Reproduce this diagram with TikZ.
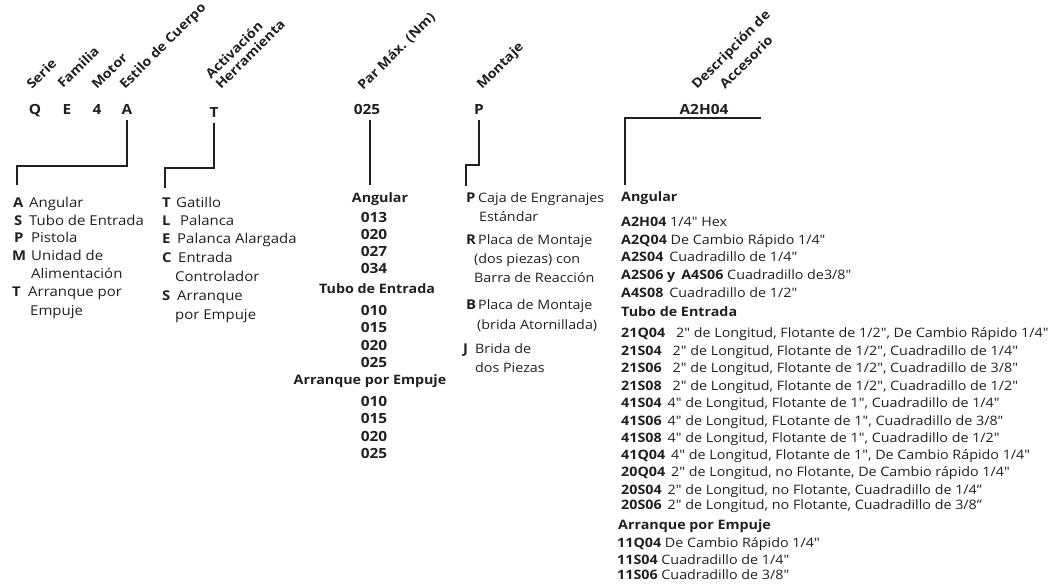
\documentclass[tikz,border=0pt]{standalone}
\usepackage{fontspec}
\setmainfont{Open Sans}[FakeStretch=1.1, Ligatures=TeXOff]
\definecolor{ink}{HTML}{231F20}
\begin{document}
\begin{tikzpicture}[x=1pt,y=-1pt,
  ln/.style={line width=1.6pt, draw=ink},
  hd/.style={font=\bfseries\fontsize{13}{15}\selectfont, rotate=45, anchor=base west, inner sep=0pt, text=ink},
  code/.style={font=\bfseries\fontsize{14}{16}\selectfont, anchor=base, inner sep=0pt, text=ink},
  key/.style={font=\bfseries\fontsize{13.5}{15}\selectfont, anchor=base west, inner sep=0pt, text=ink},
  itm/.style={font=\fontsize{13.6}{15}\selectfont, anchor=base west, inner sep=0pt, text=ink},
  ritm/.style={font=\fontsize{13}{15}\selectfont, anchor=base west, inner sep=0pt, text=ink},
  bhd/.style={font=\bfseries\fontsize{13}{15}\selectfont, anchor=base, inner sep=0pt, text=ink},
  num/.style={font=\bfseries\fontsize{14}{15}\selectfont, anchor=base, inner sep=0pt, text=ink}]
\useasboundingbox (0,0) rectangle (1049,585);
% rotated headers
\node[hd] (hSerie) at (32,90) {Serie};
\node[hd] (hFam) at (63,89) {Familia};
\node[hd] (hMot) at (97,90) {Motor};
\node[hd] (hEst) at (125,90) {Estilo de Cuerpo};
\node[hd] (hAct) at (211,80) {Activación};
\node[hd] (hHer) at (221,90) {Herramienta};
\node[hd] (hPar) at (363,91) {Par Máx. (Nm)};
\node[hd] (hMon) at (482,90) {Montaje};
\node[hd] (hDes) at (697,90) {Descripción de};
\node[hd] (hAcc) at (725,90) {Accesorio};
% codes
\node[code] (cQ) at (35,115) {Q};
\node[code] (cE) at (67,115) {E};
\node[code] (c4) at (97,115) {4};
\node[code] (cA) at (127,115) {A};
\node[code] (cT) at (214,118) {T};
\node[code] (c025) at (367,115) {025};
\node[code] (cP) at (479,115) {P};
\node[code] (cA2) at (704,115) {A2H04};
% connector coordinates
\coordinate (bA) at (17,166);
\coordinate (eA) at (17,185);
\coordinate (bT) at (165,168);
\coordinate (eT) at (165,188);
\coordinate (e025) at (370,185);
\coordinate (bP) at (466,165);
\coordinate (eP) at (466,186);
\coordinate (rA2) at (761,118);
\coordinate (lA2) at (625,118);
\coordinate (eA2) at (625,185);
\draw[ln] ([yshift=-5pt]cA.south) |- (bA) -- (eA);
\draw[ln] ([yshift=-5pt]cT.south) |- (bT) -- (eT);
\draw[ln] ([yshift=-5pt]c025.south -| e025) -- (e025);
\draw[ln] ([yshift=-5pt]cP.south) |- (bP) -- (eP);
\draw[ln] (rA2) -- (lA2) -- (eA2);
% list 1
\node[key] (k1a) at (13,208) {A}; \node[itm] (t1a) at (29,208) {Angular};
\node[key] (k1b) at (14,226) {S}; \node[itm] (t1b) at (29,226) {Tubo de Entrada};
\node[key] (k1c) at (14,243) {P}; \node[itm] (t1c) at (31,243) {Pistola};
\node[key] (k1d) at (12,261) {M}; \node[itm] (t1d) at (31,261) {Unidad de};
\node[itm] (t1e) at (31,279) {Alimentación};
\node[key] (k1f) at (12,297) {T}; \node[itm] (t1f) at (28,297) {Arranque por};
\node[itm] (t1g) at (30,316) {Empuje};
% list 2
\node[key] (k2a) at (162,208) {T}; \node[itm] (t2a) at (176,208) {Gatillo};
\node[key] (k2b) at (162,226) {L}; \node[itm] (t2b) at (180,226) {Palanca};
\node[key] (k2c) at (162,244) {E}; \node[itm] (t2c) at (177,244) {Palanca Alargada};
\node[key] (k2d) at (162,262) {C}; \node[itm] (t2d) at (178,262) {Entrada};
\node[itm] (t2e) at (175,281) {Controlador};
\node[key] (k2f) at (162,300) {S}; \node[itm] (t2f) at (177,300) {Arranque};
\node[itm] (t2g) at (175,319) {por Empuje};
% torque column
\node[bhd] (m1) at (380,203) {Angular};
\node[num] (m2) at (374,223) {013};
\node[num] (m3) at (374,239.5) {020};
\node[num] (m4) at (374,257) {027};
\node[num] (m5) at (374,274) {034};
\node[bhd] (m6) at (377,294) {Tubo de Entrada};
\node[num] (m7) at (374,315) {010};
\node[num] (m8) at (374,332) {015};
\node[num] (m9) at (374,350) {020};
\node[num] (m10) at (374,367) {025};
\node[bhd] (m11) at (370,384) {Arranque por Empuje};
\node[num] (m12) at (374,406) {010};
\node[num] (m13) at (374,423) {015};
\node[num] (m14) at (374,441) {020};
\node[num] (m15) at (374,458) {025};
% mounting list
\node[key] (k3a) at (466,203) {P}; \node[ritm] (t3a) at (478,203) {Caja de Engranajes};
\node[ritm] (t3b) at (479,222) {Estándar};
\node[key] (k3c) at (466,245) {R}; \node[ritm] (t3c) at (478,245) {Placa de Montaje};
\node[ritm] (t3d) at (474,264) {(dos piezas) con};
\node[ritm] (t3e) at (474,283) {Barra de Reacción};
\node[key] (k3f) at (466,309) {B}; \node[ritm] (t3f) at (478,309) {Placa de Montaje};
\node[ritm] (t3g) at (477,329) {(brida Atornillada)};
\node[key] (k3h) at (463,353) {J}; \node[ritm] (t3h) at (475,353) {Brida de};
\node[ritm] (t3i) at (475,372) {dos Piezas};
% accessory column
\node[ritm] (r1) at (621,201.5) {\textbf{Angular}};
\node[ritm] (r2) at (621,226.5) {\textbf{A2H04} 1/4" Hex};
\node[ritm] (r3) at (621,244.5) {\textbf{A2Q04} De Cambio Rápido 1/4"};
\node[ritm] (r4) at (621,261.5) {\textbf{A2S04}\hspace{6pt}Cuadradillo de 1/4"};
\node[ritm] (r5) at (621,279.5) {\textbf{A2S06 y\hspace{6pt}A4S06} Cuadradillo de3/8"};
\node[ritm] (r6) at (621,297.5) {\textbf{A4S08}\hspace{6pt}Cuadradillo de 1/2"};
\node[ritm] (r7) at (621,316.5) {\textbf{Tubo de Entrada}};
\node[ritm] (r8) at (621,337.5) {\textbf{21Q04}\hspace{11pt}2" de Longitud, Flotante de 1/2", De Cambio Rápido 1/4"};
\node[ritm] (r9) at (621,355.5) {\textbf{21S04}\hspace{11pt}2" de Longitud, Flotante de 1/2", Cuadradillo de 1/4"};
\node[ritm] (r10) at (621,372.5) {\textbf{21S06}\hspace{11pt}2" de Longitud, Flotante de 1/2", Cuadradillo de 3/8"};
\node[ritm] (r11) at (621,390.5) {\textbf{21S08}\hspace{11pt}2" de Longitud, Flotante de 1/2", Cuadradillo de 1/2"};
\node[ritm] (r12) at (621,407.5) {\textbf{41S04}\hspace{6pt}4" de Longitud, Flotante de 1", Cuadradillo de 1/4"};
\node[ritm] (r13) at (621,425.5) {\textbf{41S06}\hspace{6pt}4" de Longitud, FLotante de 1", Cuadradillo de 3/8"};
\node[ritm] (r14) at (621,442.5) {\textbf{41S08}\hspace{6pt}4" de Longitud, Flotante de 1", Cuadradillo de 1/2"};
\node[ritm] (r15) at (621,459.5) {\textbf{41Q04}\hspace{6pt}4" de Longitud, Flotante de 1", De Cambio Rápido 1/4"};
\node[ritm] (r16) at (621,476.5) {\textbf{20Q04}\hspace{6pt}2" de Longitud, no Flotante, De Cambio rápido 1/4"};
\node[ritm] (r17) at (621,494.5) {\textbf{20S04}\hspace{6pt}2" de Longitud, no Flotante, Cuadradillo de 1/4”};
\node[ritm] (r18) at (621,509.5) {\textbf{20S06}\hspace{6pt}2" de Longitud, no Flotante, Cuadradillo de 3/8”};
\node[ritm] (r19) at (618,529.5) {\textbf{Arranque por Empuje}};
\node[ritm] (r20) at (617,547.5) {\textbf{11Q04} De Cambio Rápido 1/4"};
\node[ritm] (r21) at (617,564.5) {\textbf{11S04} Cuadradillo de 1/4"};
\node[ritm] (r22) at (617,579.5) {\textbf{11S06} Cuadradillo de 3/8"};
\end{tikzpicture}
\end{document}
